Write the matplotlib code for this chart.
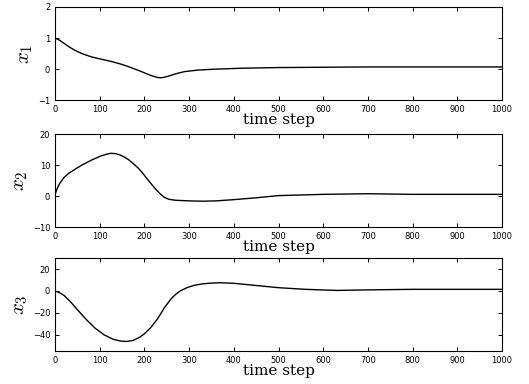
import matplotlib.pyplot as plt

plt.rcParams['mathtext.fontset'] = 'cm'

# values
t1 = [0, 10, 20, 30, 45, 60, 80, 100, 125, 150, 170, 190, 205, 220, 230, 237, 245, 255, 270, 290, 320, 360, 420, 500, 600, 700, 800, 900, 1000]
x1 = [1.0, 0.93, 0.83, 0.73, 0.6, 0.5, 0.4, 0.33, 0.25, 0.15, 0.05, -0.06, -0.15, -0.23, -0.27, -0.28, -0.26, -0.22, -0.15, -0.08, -0.03, 0.0, 0.03, 0.05, 0.06, 0.07, 0.07, 0.07, 0.07]

t2 = [0, 5, 10, 20, 30, 45, 60, 80, 100, 115, 125, 135, 145, 155, 165, 175, 185, 195, 205, 215, 225, 235, 245, 255, 270, 300, 330, 360, 400, 450, 500, 600, 700, 800, 900, 1000]
x2 = [0.5, 2.5, 4.0, 6.0, 7.3, 8.7, 10.0, 11.5, 12.8, 13.5, 13.8, 13.7, 13.3, 12.6, 11.7, 10.5, 9.2, 7.6, 5.8, 4.0, 2.3, 0.8, -0.4, -1.0, -1.3, -1.5, -1.6, -1.5, -1.1, -0.5, 0.2, 0.6, 0.8, 0.6, 0.6, 0.6]

t3 = [0, 10, 20, 35, 50, 70, 90, 110, 130, 145, 160, 175, 190, 200, 215, 230, 245, 260, 270, 280, 295, 310, 330, 350, 370, 400, 450, 500, 560, 630, 700, 800, 900, 1000]
x3 = [0, -1.5, -4, -10, -17, -26, -34, -40, -44, -45.5, -46, -45, -42, -39, -33, -25, -15, -7, -3, 0, 3, 5, 6.5, 7.2, 7.5, 7, 5, 3, 1.5, 0.5, 1.0, 1.5, 1.5, 1.5]

series = [(t1, x1, r'$x_1$', (-1, 2), [-1, 0, 1, 2]),
          (t2, x2, r'$x_2$', (-10, 20), [-10, 0, 10, 20]),
          (t3, x3, r'$x_3$', (-55, 30), [-40, -20, 0, 20])]

fig = plt.figure(figsize=(5.29, 3.84), dpi=100)
tops = [0.982, 0.651, 0.328]
h = 0.243

for (t, x, lbl, yl, yt), top in zip(series, tops):
    ax = fig.add_axes([0.104, top - h, 0.845, h])
    ax.plot(t, x, color='black', lw=1.0)
    ax.set_xlim(0, 1000)
    ax.set_ylim(*yl)
    ax.set_yticks(yt)
    ax.set_xticks(range(0, 1001, 100))
    ax.tick_params(direction='in', top=True, right=True, labelsize=6, length=3, width=0.7)
    for s in ax.spines.values():
        s.set_linewidth(0.8)
    ax.set_ylabel(lbl, fontsize=15, labelpad=2)
    ax.set_xlabel('time step', family='DejaVu Serif', fontsize=11, labelpad=-1)

fig.savefig('out.png', dpi=100)
